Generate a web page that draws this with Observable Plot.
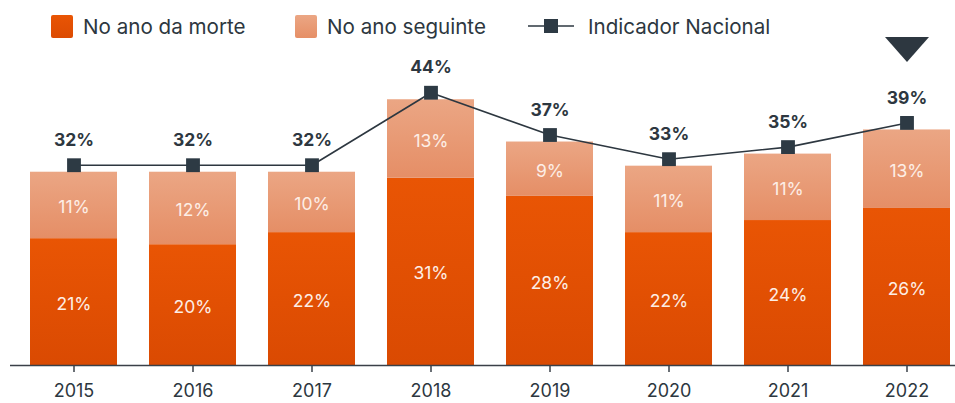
<!DOCTYPE html>
<html>
<head>
<meta charset="utf-8">
<script src="https://cdn.jsdelivr.net/npm/d3@7"></script>
<script src="https://cdn.jsdelivr.net/npm/@observablehq/plot@0.6"></script>
<style>
  html, body { margin: 0; padding: 0; background: #fff; }
  #wrap { position: relative; width: 955px; height: 403px; font-family: Inter, "Noto Sans", sans-serif; }
  #legend { position: absolute; left: 0; top: 0; width: 955px; height: 52px; }
  .li { position: absolute; top: 14px; height: 24px; display: flex; align-items: center; font-size: 20.6px; color: #2d3740; }
  .sw { width: 22px; height: 23px; border-radius: 2px; margin-right: 10px; }
  #chart { position: absolute; left: 0; top: 0; }
</style>
</head>
<body>
<div id="wrap">
  <div id="chart"></div>
  <div id="legend">
    <div class="li" style="left:51px"><span class="sw" style="background:linear-gradient(#e95504,#dc4b02)"></span>No ano da morte</div>
    <div class="li" style="left:295px"><span class="sw" style="background:linear-gradient(#eba684,#e68f66)"></span>No ano seguinte</div>
    <div class="li" style="left:528px">
      <svg width="48" height="24" style="margin-right:12px"><line x1="0" x2="46" y1="12" y2="12" stroke="#2d3740" stroke-width="1.6"/><rect x="16" y="5" width="14" height="14" fill="#2d3a44"/></svg>
      Indicador Nacional</div>
  </div>
</div>
<script>
const years = ["2015","2016","2017","2018","2019","2020","2021","2022"];
const noAnoDaMorte = [21, 20, 22, 31, 28, 22, 24, 26];
const noAnoSeguinte = [11, 12, 10, 13, 9, 11, 11, 13];
const indicadorNacional = [32, 32, 32, 44, 37, 33, 35, 39];
const highlightYear = ["2022"];

const stacked = [];
years.forEach((y, i) => {
  stacked.push({year: y, part: "morte", value: noAnoDaMorte[i]});
  stacked.push({year: y, part: "seguinte", value: noAnoSeguinte[i]});
});
const nat = years.map((y, i) => ({year: y, value: indicadorNacional[i]}));

const flatTriangle = {
  draw(context, size) {
    const w = 22, h = 25;
    context.moveTo(-w, -h / 2);
    context.lineTo(w, -h / 2);
    context.lineTo(0, h / 2);
    context.closePath();
  }
};

const plot = Plot.plot({
  width: 955,
  height: 403,
  marginLeft: 10,
  marginRight: 0,
  marginTop: 63,
  marginBottom: 38,
  style: {fontFamily: "Inter, 'Noto Sans', sans-serif", background: "transparent"},
  x: {domain: years, range: [28, 951.5], paddingInner: 0.272, paddingOuter: 0, label: null},
  y: {domain: [0, 50], axis: null},
  color: {domain: ["morte", "seguinte"], range: ["url(#gDark)", "url(#gLight)"]},
  marks: [
    Plot.barY(stacked, Plot.stackY({x: "year", y: "value", fill: "part", order: ["morte", "seguinte"]})),
    Plot.text(stacked, Plot.stackY({x: "year", y: "value", z: "part", order: ["morte", "seguinte"], text: d => d.value + "%", fill: "#fdeee6", fontSize: 17.5, dy: 2})),
    Plot.ruleY([0], {stroke: "#3a4048", strokeWidth: 1.3}),
    Plot.axisX({tickSize: 7, tickPadding: 12, fontSize: 18, color: "#2d3740", stroke: "#3a4048", strokeWidth: 1.5}),
    Plot.line(nat, {x: "year", y: "value", stroke: "#2d3740", strokeWidth: 1.6, dy: -7}),
    Plot.dot(nat, {x: "year", y: "value", symbol: "square", r: 7.8, fill: "#2d3a44", stroke: "none", dy: -7}),
    Plot.text(nat, {x: "year", y: "value", text: d => d.value + "%", dy: -32, fontSize: 17.5, fontWeight: "bold", fill: "#2d3740"}),
    Plot.dot(highlightYear, {x: d => d, frameAnchor: "top", dy: -14, symbol: flatTriangle, fill: "#2d3740", stroke: "none", r: 10})
  ]
});

d3.select(plot).insert("defs", ":first-child").html(`
  <linearGradient id="gDark" x1="0" y1="0" x2="0" y2="1">
    <stop offset="0" stop-color="#e95504"/><stop offset="1" stop-color="#da4a02"/>
  </linearGradient>
  <linearGradient id="gLight" x1="0" y1="0" x2="0" y2="1">
    <stop offset="0" stop-color="#eba684"/><stop offset="1" stop-color="#e58e66"/>
  </linearGradient>`);

document.getElementById("chart").appendChild(plot);
</script>
</body>
</html>
